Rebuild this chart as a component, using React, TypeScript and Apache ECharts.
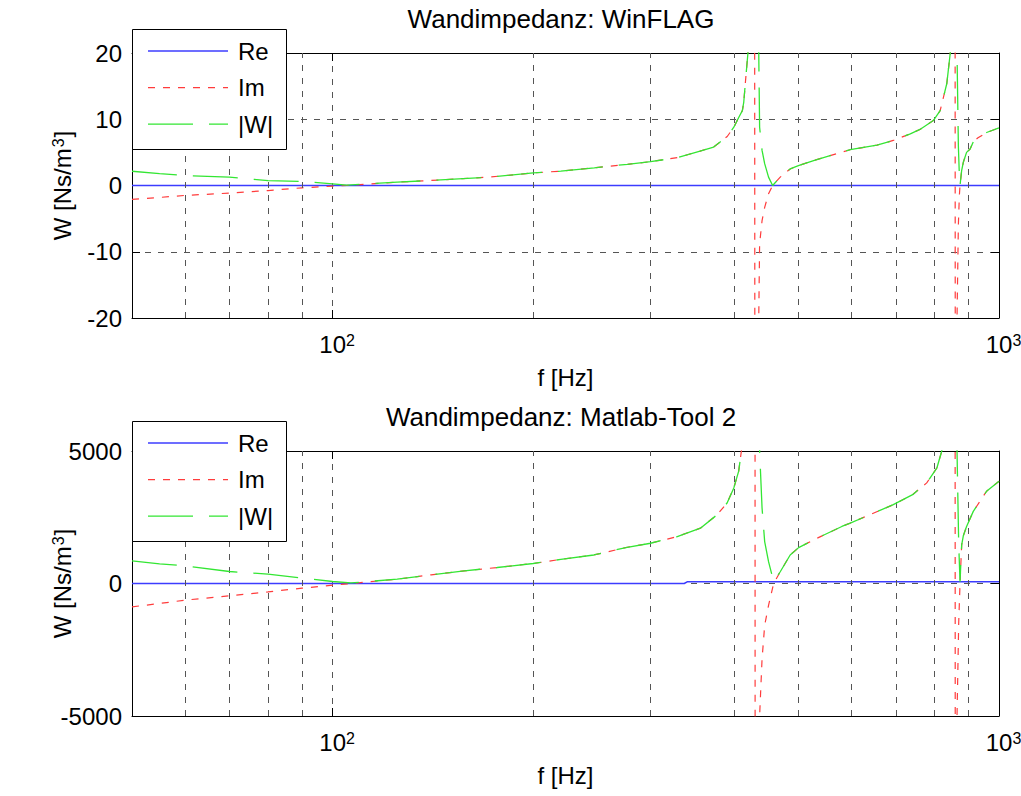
import React, { useEffect, useRef } from "react";
import * as echarts from "echarts";

const FONT = '"Liberation Sans", Arial, Helvetica, sans-serif';
const BLUE = "#3c3cff";
const RED = "#ff3c3c";
const GREEN = "#33e633";
const GRID_COLOR = "#555555";

// ---------- upper panel: Wandimpedanz WinFLAG ----------
const topReFreq = [50, 1000];
const topReVal = [0, 0];

const topImFreq = [50, 55, 60, 70, 80, 90, 100, 105, 125, 140, 157, 171, 200, 220, 247, 277, 300, 329, 356, 373, 391, 400, 407, 412, 414, 417, 420, 425, 429, 431, 436, 437.3, 441, 445, 451, 457.4, 469.6, 486, 500, 527, 598, 656, 694, 736, 761, 797, 816, 835, 845, 852, 858, 861, 865, 869, 872, 874, 879, 884, 894, 905, 915, 930, 958, 1000];
const topImVal = [-2.1, -1.8, -1.5, -1.15, -0.76, -0.35, -0.1, 0, 0.5, 0.75, 1.05, 1.25, 1.9, 2.17, 2.67, 3.2, 3.6, 4.2, 5.2, 5.8, 7.4, 8.8, 10.3, 11.3, 12.6, 16.4, 20, 40, 200, -200, -20, -8.8, -5.3, -3.3, -1.26, 0, 1.26, 2.5, 3.0, 3.77, 5.4, 6.1, 6.8, 7.8, 8.46, 9.8, 11.3, 15.4, 20, 40, 200, -200, -20, -6, -1.5, 0, 2.3, 3.5, 5.0, 5.5, 6.6, 7.2, 8.0, 8.7];

const topWFreq = [50, 55, 60, 70, 80, 90, 100, 105, 125, 140, 157, 171, 200, 220, 247, 277, 300, 329, 356, 373, 391, 400, 407, 412, 414, 417, 420, 425, 429, 431, 436, 437.3, 441, 445, 451, 457.4, 469.6, 486, 500, 527, 598, 656, 694, 736, 761, 797, 816, 835, 845, 852, 858, 861, 865, 869, 872, 874, 879, 884, 894, 905, 915, 930, 958, 1000];
const topWVal = [2.15, 1.8, 1.5, 1.25, 0.75, 0.6, 0.25, 0.05, 0.5, 0.75, 1.05, 1.25, 1.9, 2.17, 2.67, 3.2, 3.6, 4.2, 5.2, 5.8, 7.4, 8.8, 10.3, 11.3, 12.6, 16.4, 20, 40, 200, 200, 20, 8.8, 5.3, 3.3, 1.26, 0, 1.26, 2.5, 3.0, 3.77, 5.4, 6.1, 6.8, 7.8, 8.46, 9.8, 11.3, 15.4, 20, 40, 200, 200, 20, 6, 1.5, 0, 2.3, 3.5, 5.0, 5.5, 6.6, 7.2, 8.0, 8.7];

// ---------- lower panel: Wandimpedanz Matlab-Tool 2 ----------
const botReFreq = [50, 337, 341, 1000];
const botReVal = [0, 0, 70, 70];

const botImFreq = [50, 55, 60, 70, 80, 90, 100, 106.5, 125, 140.6, 157.6, 176.6, 200, 220, 246.6, 276.7, 300, 329, 356.4, 377.6, 390.8, 400, 406.8, 410.6, 418, 426, 430, 431, 437.3, 441, 445, 451, 459, 469.6, 486, 500.4, 526.8, 581, 598, 694, 742, 779, 807, 820.6, 835, 850, 858, 861, 865, 870, 874, 879, 884, 894, 915, 958, 1000];
const botImVal = [-880, -755, -628, -465, -315, -176, -63, 0, 164, 327, 478, 604, 755, 911, 1076, 1367, 1519, 1772, 2088, 2595, 3038, 3607, 4240, 5000, 8000, 20000, 60000, -60000, -5000, -2848, -1582, -823, 0, 443, 1076, 1354, 1645, 2152, 2278, 2974, 3353, 3797, 4367, 5000, 8000, 20000, 60000, -60000, -5000, -1500, 0, 1455, 1800, 2152, 2722, 3481, 3861];

const botWFreq = [50, 55, 60, 70, 80, 90, 100, 106.5, 125, 140.6, 157.6, 176.6, 200, 220, 246.6, 276.7, 300, 329, 356.4, 377.6, 390.8, 400, 406.8, 410.6, 418, 426, 430, 431, 437.3, 441, 445, 451, 459, 469.6, 486, 500.4, 526.8, 581, 598, 694, 742, 779, 807, 820.6, 835, 850, 858, 861, 865, 870, 874, 879, 884, 894, 915, 958, 1000];
const botWVal = [857, 740, 668, 453, 355, 204, 75, 20, 164, 327, 478, 604, 755, 911, 1076, 1367, 1519, 1772, 2088, 2595, 3038, 3607, 4240, 5000, 8000, 20000, 60000, 60000, 5000, 2848, 1582, 823, 70, 443, 1076, 1354, 1645, 2152, 2278, 2974, 3353, 3797, 4367, 5000, 8000, 20000, 60000, 60000, 5000, 1500, 70, 1455, 1800, 2152, 2722, 3481, 3861];

// ---------- axes ----------
const xMin = 50;
const xMax = 1000;
const minorGridFreqs = [60, 70, 80, 90, 200, 300, 400, 500, 600, 700, 800, 900];
const topY = { min: -20, max: 20, interval: 10 };
const botY = { min: -5000, max: 5000, interval: 5000 };
const titles = ["Wandimpedanz: WinFLAG", "Wandimpedanz: Matlab-Tool 2"];
const legendNames = ["Re", "Im", "|W|"];

const pairs = (f: number[], v: number[]) => f.map((x, i) => [x, v[i]]);

const gridBoxes = [
  { left: 132, top: 53, width: 867, height: 265 },
  { left: 132, top: 451, width: 867, height: 265 },
];

function xLabel(v: number) {
  const l = Math.log10(v);
  if (Math.abs(l - Math.round(l)) < 1e-6) return "{b|10}{s|" + Math.round(l) + "}";
  return "";
}

const supRich = {
  b: { fontSize: 24, fontFamily: FONT, color: "#000", lineHeight: 24, verticalAlign: "bottom", padding: [0, 0, 0, 9] },
  s: { fontSize: 16, fontFamily: FONT, color: "#000", lineHeight: 16, verticalAlign: "top", padding: [0, 0, 15, 0] },
};
const nameRich = {
  a: { fontSize: 24, fontFamily: FONT, color: "#000", lineHeight: 24, verticalAlign: "bottom" },
  s: { fontSize: 16, fontFamily: FONT, color: "#000", lineHeight: 16, verticalAlign: "top", padding: [0, 1, 15, 1] },
};

function buildAxes(g: number, y: { min: number; max: number; interval: number }) {
  const xMain = {
    type: "log",
    logBase: 10,
    gridIndex: g,
    min: xMin,
    max: xMax,
    position: "bottom",
    name: "f [Hz]",
    nameLocation: "middle",
    nameGap: 47,
    nameMoveOverlap: false,
    nameTextStyle: { fontSize: 24, fontFamily: FONT, color: "#000" },
    axisLine: { show: true, onZero: false, lineStyle: { color: "#000", width: 1 } },
    axisTick: { show: true, inside: true, length: 8, lineStyle: { color: "#000" } },
    axisLabel: { show: true, margin: 14, formatter: xLabel, rich: supRich, color: "#000" },
    splitLine: { show: true, lineStyle: { color: GRID_COLOR, type: [6, 7], width: 1 } },
  };
  const xTop = {
    type: "log",
    logBase: 10,
    gridIndex: g,
    min: xMin,
    max: xMax,
    position: "top",
    axisLine: { show: true, onZero: false, lineStyle: { color: "#000", width: 1 } },
    axisTick: { show: true, inside: true, length: 8, lineStyle: { color: "#000" } },
    axisLabel: { show: false },
    splitLine: { show: false },
  };
  const yMain = {
    type: "value",
    gridIndex: g,
    min: y.min,
    max: y.max,
    interval: y.interval,
    position: "left",
    name: "{a|W [Ns/m}{s|3}{a|]}",
    nameLocation: "middle",
    nameGap: 58,
    nameRotate: 90,
    nameMoveOverlap: false,
    nameTextStyle: { fontSize: 24, fontFamily: FONT, color: "#000", rich: nameRich },
    axisLine: { show: true, onZero: false, lineStyle: { color: "#000", width: 1 } },
    axisTick: { show: true, inside: true, length: 8, lineStyle: { color: "#000" } },
    axisLabel: { show: true, margin: 10, fontSize: 24, fontFamily: FONT, color: "#000", formatter: (v: number) => String(v) },
    splitLine: { show: true, lineStyle: { color: GRID_COLOR, type: [6, 7], width: 1 } },
  };
  const yRight = {
    type: "value",
    gridIndex: g,
    min: y.min,
    max: y.max,
    interval: y.interval,
    position: "right",
    axisLine: { show: true, onZero: false, lineStyle: { color: "#000", width: 1 } },
    axisTick: { show: true, inside: true, length: 8, lineStyle: { color: "#000" } },
    axisLabel: { show: false },
    splitLine: { show: false },
  };
  return { x: [xMain, xTop], y: [yMain, yRight] };
}

function buildSeries(g: number, re: number[][], im: number[][], w: number[][]) {
  const xi = g * 2;
  const yi = g * 2;
  return [
    {
      name: "Re",
      type: "line",
      xAxisIndex: xi,
      yAxisIndex: yi,
      data: re,
      symbol: "none",
      showSymbol: false,
      z: 3,
      lineStyle: { color: BLUE, width: 1.5 },
      itemStyle: { color: BLUE },
      markLine: {
        silent: true,
        symbol: ["none", "none"],
        label: { show: false },
        lineStyle: { color: GRID_COLOR, type: [6, 7], width: 1 },
        data: minorGridFreqs.map((f) => ({ xAxis: f })),
      },
    },
    {
      name: "Im",
      type: "line",
      xAxisIndex: xi,
      yAxisIndex: yi,
      data: im,
      symbol: "none",
      showSymbol: false,
      z: 4,
      lineStyle: { color: RED, width: 1.2, type: [7, 8] },
      itemStyle: { color: RED },
    },
    {
      name: "|W|",
      type: "line",
      xAxisIndex: xi,
      yAxisIndex: yi,
      data: w,
      symbol: "none",
      showSymbol: false,
      z: 5,
      lineStyle: { color: GREEN, width: 1.3, type: [45, 16] },
      itemStyle: { color: GREEN },
    },
  ];
}

const legendStyles = [
  { color: BLUE, dash: null as null | number[], width: 1.5 },
  { color: RED, dash: [7, 8], width: 1.2 },
  { color: GREEN, dash: [45, 16], width: 1.3 },
];

function legendGraphic(boxTop: number) {
  const children: any[] = [
    {
      type: "rect",
      shape: { x: 132.5, y: boxTop + 0.5, width: 154, height: 120 },
      style: { fill: "#fff", stroke: "#000", lineWidth: 1 },
      z: 100,
    },
  ];
  legendNames.forEach((name, i) => {
    const yy = boxTop + 22 + i * 36.6;
    const st = legendStyles[i];
    children.push({
      type: "line",
      shape: { x1: 148, y1: yy, x2: 228, y2: yy },
      style: { stroke: st.color, lineWidth: st.width, lineDash: st.dash || undefined },
      z: 101,
    });
    children.push({
      type: "text",
      x: 238,
      y: yy,
      style: { text: name, fontSize: 24, fontFamily: FONT, fill: "#000", align: "left", verticalAlign: "middle" },
      z: 101,
    });
  });
  return { type: "group", children };
}

export default function App() {
  const ref = useRef<HTMLDivElement>(null);
  useEffect(() => {
    const chart = echarts.init(ref.current!, null, { renderer: "svg" });
    const a0 = buildAxes(0, topY);
    const a1 = buildAxes(1, botY);
    const option: any = {
      animation: false,
      backgroundColor: "#fff",
      textStyle: { fontFamily: FONT },
      title: titles.map((t, i) => ({
        text: t,
        left: 561,
        top: i === 0 ? 6 : 404,
        textAlign: "center",
        textVerticalAlign: "top",
        padding: 0,
        textStyle: { fontSize: 26, fontWeight: "normal", fontFamily: FONT, color: "#000" },
      })),
      grid: gridBoxes.map((b) => ({ ...b, show: false, containLabel: false, outerBoundsMode: "none" })),
      xAxis: [...a0.x, ...a1.x],
      yAxis: [...a0.y, ...a1.y],
      series: [
        ...buildSeries(0, pairs(topReFreq, topReVal), pairs(topImFreq, topImVal), pairs(topWFreq, topWVal)),
        ...buildSeries(1, pairs(botReFreq, botReVal), pairs(botImFreq, botImVal), pairs(botWFreq, botWVal)),
      ],
      graphic: [legendGraphic(29), legendGraphic(421)],
    };
    chart.setOption(option);
    return () => chart.dispose();
  }, []);
  return (
    <div
      ref={ref}
      style={{ position: "absolute", left: 0, top: 0, width: 1021, height: 796, background: "#fff" }}
    />
  );
}
